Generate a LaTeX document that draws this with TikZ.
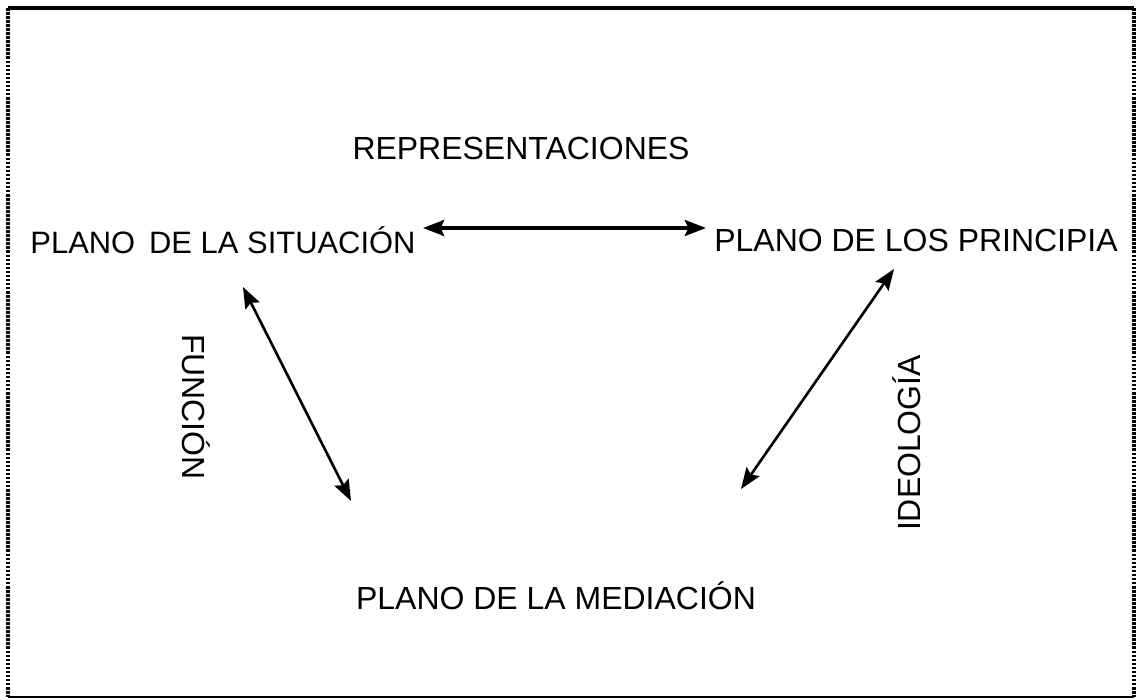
\documentclass[tikz,border=0pt]{standalone}
\usepackage{fontspec}
\setmainfont{Liberation Sans}
\usetikzlibrary{positioning, arrows.meta}

\begin{document}
\begin{tikzpicture}[
        x=0.02cm, y=-0.02cm,
        every node/.style={inner sep=0pt, font=\fontsize{18.2}{21}\selectfont},
        rel/.style={draw, line width=1.5pt, {Stealth[length=12pt, width=9pt, inset=2pt]}-{Stealth[length=12pt, width=9pt, inset=2pt]}},
        frameside/.style={line width=1.8pt, dash pattern=on 1.5pt off 0.8pt}
    ]
    \useasboundingbox (0,0) rectangle (1137,700);

    % Frame
    \draw[line width=2pt] (8,8) -- (1134,8);
    \draw[frameside] (8,8) -- (8,697);
    \draw[frameside] (1134,8) -- (1134,697);
    \draw[line width=1.2pt] (8,697) -- (1134,697);

    % Nodes
    \node (repr) at (521,148) {REPRESENTACIONES};
    \node (situacion) [font=\fontsize{17.6}{21}\selectfont] at (223,240) {PLANO\hspace{0.45em}DE LA SITUACIÓN};
    \node (principia) at (916,240) {PLANO DE LOS PRINCIPIA};
    \node (mediacion) at (556,596) {PLANO DE LA MEDIACIÓN};
    \node (funcion) [rotate=-90] at (196,407) {FUNCIÓN};
    \node (ideologia) [rotate=90] at (907,443) {IDEOLOGÍA};

    % Ends of the connectors
    \coordinate (sitR) at (423,228);
    \coordinate (priL) at (706,228);
    \coordinate (sitB) at (243,287);
    \coordinate (medL) at (351,501);
    \coordinate (priB) at (894,269);
    \coordinate (medR) at (741,489);

    % Arrows
    \draw[rel, line width=2.2pt] (sitR) -- (priL);
    \draw[rel] (sitB) -- (medL);
    \draw[rel] (priB) -- (medR);

\end{tikzpicture}
\end{document}
